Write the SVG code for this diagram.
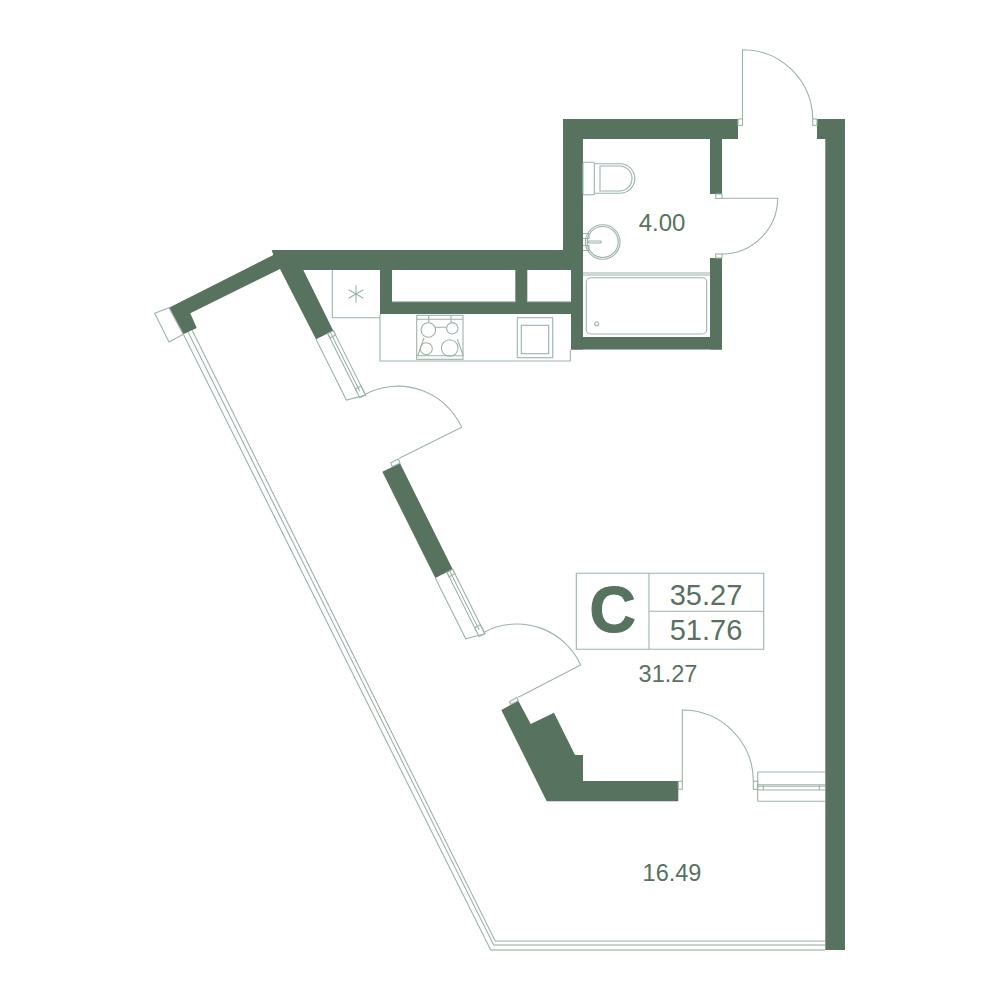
<svg xmlns="http://www.w3.org/2000/svg" width="1000" height="1000" viewBox="0 0 1000 1000">
<style>
.w{fill:#57725f;stroke:none}
.l{fill:none;stroke:#9db3a7;stroke-width:1.1}
.p{fill:none;stroke:#c3cfc8;stroke-width:1.4}
.t{fill:#57725f;font-family:"Liberation Sans",Arial,sans-serif;text-anchor:middle}
</style>
<defs>
<g id="win" class="l">
<path d="M0 0H68L72 -19.4H0M0 -13H66M0 -16H66"/>
<rect x="0" y="-19.4" width="5" height="6.4"/>
<rect x="62" y="-19.4" width="10" height="6.4"/>
</g>
</defs>
<rect width="1000" height="1000" fill="#fff"/>
<g id="walls">
<rect class="w" x="563" y="119" width="175" height="20"/>
<rect class="w" x="563" y="119" width="20" height="151"/>
<rect class="w" x="571" y="270" width="12" height="79.5"/>
<rect class="w" x="571" y="337" width="151" height="12.5"/>
<rect class="w" x="710" y="139" width="12" height="55"/>
<rect class="w" x="710" y="258" width="12" height="91.5"/>
<rect class="w" x="380" y="302" width="191" height="12"/>
<rect class="w" x="380" y="268" width="12" height="36"/>
<rect class="w" x="515.3" y="268" width="12" height="36"/>
<polygon class="w" points="271.7,250 571,250 571,270 303.3,270 333.3,330.7 316,339.3 280,269 190.3,313.3 196.7,328 183.3,334.3 169,307.7 273.3,255"/>
<polygon class="w" points="382.3,471.7 400,463.3 452.7,569.3 435.3,578"/>
<polygon class="w" points="501.3,710 518.3,700.7 530.7,724 554,712.7 575,755 583,755 583,781 678.3,781 678.3,801.3 546.7,801.3"/>
<polygon class="w" points="817,119 845,119 845,950 825.3,950 825.3,139 817,139"/>
</g>
<g id="glazing">
<path class="l" d="M183.7 335L490.7 950H825M188 332L493.7 945H825M192 330L495.3 941.3H825"/>
<path class="p" d="M490.7 950H825M493.7 945H825M495.3 941.3H825"/>
<polygon class="l" points="169,307.7 154.7,313.3 169,342 183.3,334.3"/>
<use href="#win" transform="translate(316 339.3) rotate(63.43)"/>
<use href="#win" transform="translate(435.3 578) rotate(63.43)"/>
<path class="l" d="M757.7 772H825M757.7 801.3H825M757.7 772V801.3M757.7 784.7H825M757.7 786.3H825M757.7 790H825M763.3 784.7V790M819.3 784.7V790"/>
</g>
<g id="doors" class="l">
<path d="M742.5 119V49.7A70 70 0 0 1 812.7 119"/>
<rect x="738" y="119" width="4.5" height="6.3"/>
<rect x="812.7" y="119" width="4.3" height="6.3"/>
<path d="M722 198.3H777.7A56 56 0 0 1 722 254"/>
<rect x="715.7" y="194" width="6.3" height="4.5"/>
<rect x="715.7" y="254" width="6.3" height="4"/>
<path d="M365.7 394A70 70 0 0 1 461.7 427.3L399.3 458.3"/>
<polygon points="390.7,462.7 398.3,459 400,463.3 392.3,466.5"/>
<path d="M485 631.7A70 70 0 0 1 580.7 665L518.3 697.3"/>
<polygon points="509.3,701.7 516.7,697.5 518.3,700.7 510.7,704.5"/>
<path d="M682.3 781V710A71 71 0 0 1 753.3 781"/>
<rect x="678.3" y="781.3" width="4" height="8"/>
<rect x="753.3" y="781.3" width="4.4" height="8"/>
</g>
<g id="bathroom" class="l">
<rect x="583" y="162.3" width="11.3" height="32.4" rx="1"/>
<path d="M594.3 163.7H620A14.8 14.8 0 0 1 620 193.3H594.3"/>
<path d="M600 166H619.5A12.5 12.5 0 0 1 619.5 191H600Z"/>
<circle cx="602.7" cy="242" r="17.3"/>
<circle cx="602.7" cy="242" r="15.5"/>
<path d="M588.3 241H601V243H588.3Z"/>
<path d="M583 233.5H589V238.5H583M583 245.5H589V250.5H583"/>
<path d="M583 273H710M583 275H710"/>
<rect x="586.3" y="277.7" width="120.4" height="56.3" rx="4.5"/>
<circle cx="596.7" cy="323.7" r="2"/>
</g>
<g id="kitchen" class="l">
<path d="M332.3 270V317.7H380"/>
<path d="M356 285.3V302.7M348.5 289.7L363.5 298.3M348.5 298.3L363.5 289.7"/>
<path d="M380 314V361H570.3V349.5"/>
<path d="M392 301.7H515.3M527.3 301.7H570.7"/>
<rect x="517.3" y="317.7" width="35.4" height="40"/>
<rect x="521.3" y="325.3" width="27.4" height="28.4"/>
<rect x="416.7" y="315.3" width="46.3" height="44"/>
<path d="M416.7 319.3H463M416.7 355.7H463M428.7 315.3V323M451 315.3V322M435 327.3H446.7M424 338L417.7 355.7M457.3 339.3L463.3 355.7"/>
<circle cx="428.3" cy="330" r="7.3"/>
<circle cx="452.3" cy="328.3" r="5.7"/>
<circle cx="426.3" cy="348.7" r="6"/>
<circle cx="449.7" cy="348" r="8.3"/>
</g>
<g id="label">
<path class="l" d="M576.3 573.3H763.7V649.3H576.3ZM649 573.3V649.3M649 611.3H763.7"/>
<text class="t" x="612.5" y="632" font-size="64" font-weight="700" stroke="#57725f" stroke-width="1.2">C</text>
<text class="t" x="706" y="604.5" font-size="29">35.27</text>
<text class="t" x="706" y="640" font-size="29">51.76</text>
</g>
<g id="areas">
<text class="t" x="662" y="230.5" font-size="24">4.00</text>
<text class="t" x="668" y="681.5" font-size="23.5">31.27</text>
<text class="t" x="672" y="881" font-size="23.5">16.49</text>
</g>
</svg>
